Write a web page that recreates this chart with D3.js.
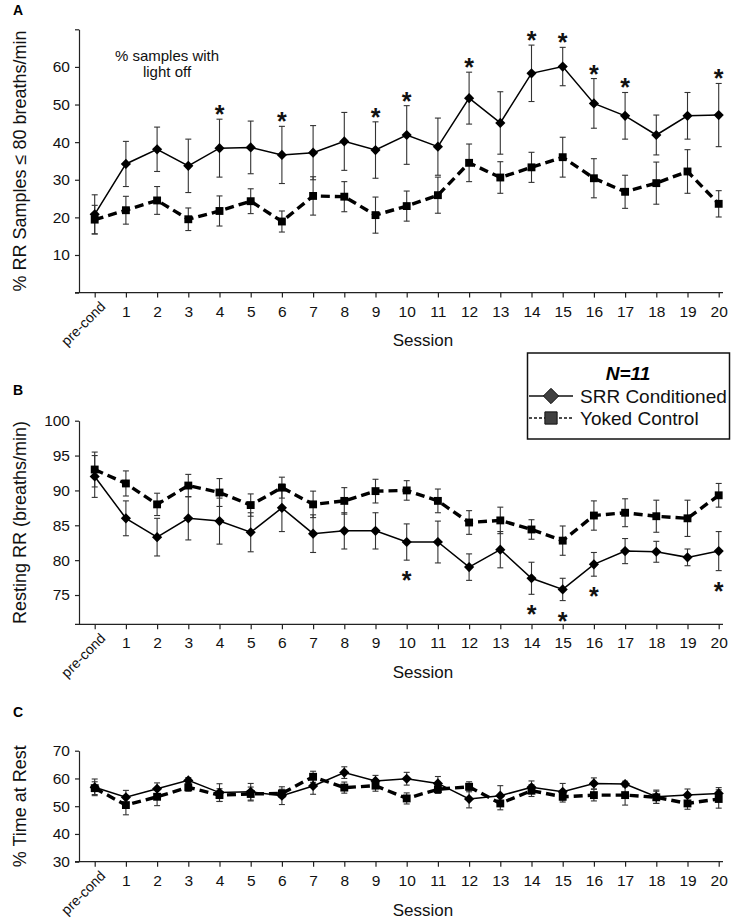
<!DOCTYPE html>
<html>
<head>
<meta charset="utf-8">
<script src="https://cdn.jsdelivr.net/npm/d3@7"></script>
<style>
  body { margin: 0; background: #fff; }
  svg { font-family: "Liberation Sans", Arial, sans-serif; }
</style>
</head>
<body>
<div id="chart"></div>
<script>
// Sessions (x categories)
const sessions = ["pre-cond", "1", "2", "3", "4", "5", "6", "7", "8", "9", "10",
  "11", "12", "13", "14", "15", "16", "17", "18", "19", "20"];

// A: % RR samples <= 80 breaths/min
const lightOffSrr = [20.8, 34.2, 38.1, 33.7, 38.4, 38.6, 36.6, 37.2, 40.2, 37.9, 41.9,
  38.8, 51.7, 45.1, 58.3, 60.1, 50.3, 47.0, 41.9, 47.0, 47.2];
const lightOffSrrErr = [5.2, 6.0, 5.9, 7.1, 7.7, 7.0, 7.6, 7.2, 7.7, 7.5, 7.8,
  7.6, 6.9, 8.3, 7.5, 5.1, 6.6, 6.2, 5.3, 6.2, 8.4];
const lightOffYoked = [19.4, 21.9, 24.5, 19.5, 21.7, 24.3, 18.9, 25.7, 25.5, 20.6, 23.0,
  25.9, 34.5, 30.6, 33.3, 36.0, 30.4, 26.8, 29.1, 32.2, 23.6];
const lightOffYokedErr = [3.8, 3.7, 3.7, 3.0, 4.0, 3.3, 2.8, 5.1, 4.0, 4.8, 4.0,
  4.8, 5.0, 4.2, 4.0, 5.3, 5.2, 4.4, 5.6, 5.8, 3.5];
const lightOffSig = ["4", "6", "9", "10", "12", "14", "15", "16", "17", "20"];

// B: resting RR (breaths/min)
const restRrSrr = [92.0, 86.0, 83.3, 86.0, 85.6, 84.0, 87.5, 83.8, 84.2, 84.2, 82.6,
  82.6, 79.0, 81.5, 77.4, 75.8, 79.4, 81.3, 81.2, 80.4, 81.3];
const restRrSrrErr = [3.0, 2.5, 2.7, 3.1, 3.3, 2.8, 3.4, 2.7, 2.6, 2.6, 2.6,
  3.0, 1.9, 2.6, 2.3, 1.6, 1.7, 1.8, 1.5, 1.2, 2.8];
const restRrYoked = [93.0, 91.0, 88.0, 90.7, 89.7, 87.9, 90.4, 88.0, 88.5, 89.9, 90.0,
  88.5, 85.4, 85.7, 84.4, 82.8, 86.4, 86.8, 86.3, 86.0, 89.3];
const restRrYokedErr = [2.5, 1.8, 1.6, 1.6, 2.0, 1.6, 1.5, 1.9, 1.9, 1.7, 1.4,
  1.7, 1.7, 1.9, 1.4, 2.1, 2.1, 2.0, 2.3, 2.6, 1.7];
const restRrSig = ["10", "14", "15", "16", "20"];

// C: % time at rest
const timeRestSrr = [56.8, 53.2, 56.3, 59.3, 54.9, 55.2, 53.8, 57.3, 62.1, 59.1, 59.9,
  58.2, 52.6, 53.8, 56.8, 55.2, 58.2, 58.0, 53.4, 54.0, 54.6];
const timeRestSrrErr = [3.0, 2.5, 2.1, 1.0, 3.2, 3.0, 3.2, 3.0, 2.1, 2.0, 2.3,
  2.5, 3.2, 3.6, 2.3, 3.0, 2.0, 1.0, 2.4, 2.2, 2.1];
const timeRestYoked = [56.5, 50.4, 53.4, 56.8, 54.0, 54.4, 54.6, 60.6, 56.7, 57.4, 52.8,
  56.1, 57.0, 51.0, 55.6, 53.4, 54.0, 54.0, 53.2, 51.0, 52.6];
const timeRestYokedErr = [2.3, 3.5, 3.2, 1.4, 2.3, 2.5, 1.5, 2.0, 2.0, 2.0, 2.0,
  1.5, 1.8, 2.3, 2.1, 1.9, 2.1, 3.6, 2.2, 2.1, 3.3];

// Panel setup
const panels = [
  { letter: "A", title: "% RR Samples \u2264 80 breaths/min", top: 29.3, bottom: 292.6,
    domain: [0, 70], ticks: d3.range(0, 71, 10), labels: d3.range(10, 61, 10),
    srr: lightOffSrr, srrErr: lightOffSrrErr, yoked: lightOffYoked, yokedErr: lightOffYokedErr,
    sig: lightOffSig, sigAbove: true, letterY: 15, sessionY: 346 },
  { letter: "B", title: "Resting RR (breaths/min)", top: 420.7, bottom: 624.3,
    domain: [70.8, 100], ticks: d3.range(75, 101, 5), labels: d3.range(75, 101, 5),
    srr: restRrSrr, srrErr: restRrSrrErr, yoked: restRrYoked, yokedErr: restRrYokedErr,
    sig: restRrSig, sigAbove: false, letterY: 395, sessionY: 678 },
  { letter: "C", title: "% Time at Rest", top: 750.7, bottom: 861.7,
    domain: [30, 70], ticks: d3.range(30, 71, 10), labels: d3.range(30, 71, 10),
    srr: timeRestSrr, srrErr: timeRestSrrErr, yoked: timeRestYoked, yokedErr: timeRestYokedErr,
    sig: [], sigAbove: true, letterY: 717, sessionY: 916 }
];

const width = 737, height = 921;
const axisX = 79, axisRight = 723;

const svg = d3.select("#chart")
  .append("svg")
  .attr("width", width)
  .attr("height", height);

const x = d3.scalePoint()
  .domain(sessions)
  .range([94.7, 718.7]);

const diamond = d3.symbol().type(d3.symbolDiamond2).size(66);
const square = d3.symbol().type(d3.symbolSquare).size(62);

panels.forEach(p => {
  const y = d3.scaleLinear().domain(p.domain).range([p.bottom, p.top]);
  const g = svg.append("g");

  // y axis
  const yAxis = g.append("g")
    .attr("transform", `translate(${axisX},0)`)
    .call(d3.axisLeft(y).tickValues(p.ticks).tickSize(4).tickSizeOuter(0).tickPadding(5)
      .tickFormat(d => p.labels.includes(d) ? d : ""));
  yAxis.attr("font-family", null);
  yAxis.selectAll("text").attr("font-size", 15.5).attr("fill", "#111");
  yAxis.selectAll("line, path").attr("stroke", "#222").attr("stroke-width", 1.2);

  // x axis
  const xAxis = g.append("g")
    .attr("transform", `translate(0,${p.bottom})`)
    .call(d3.axisBottom(x).tickSize(5).tickSizeOuter(0).tickPadding(8));
  xAxis.attr("font-family", null);
  xAxis.select(".domain").remove();
  xAxis.append("line")
    .attr("x1", axisX - 4).attr("x2", axisRight)
    .attr("stroke", "#222").attr("stroke-width", 1.2);
  xAxis.selectAll("line").attr("stroke", "#222").attr("stroke-width", 1.2);
  xAxis.selectAll("text").attr("font-size", 15.5).attr("fill", "#111");
  xAxis.selectAll(".tick").filter(d => d === "pre-cond").select("text")
    .attr("font-size", 14)
    .attr("text-anchor", "end")
    .attr("y", 0).attr("dy", 0)
    .attr("transform", "translate(11,15) rotate(-45)");

  // axis titles
  g.append("text")
    .attr("transform", `translate(26,${(p.top + p.bottom) / 2}) rotate(-90)`)
    .attr("text-anchor", "middle")
    .attr("font-size", 18)
    .attr("fill", "#111")
    .text(p.title);

  g.append("text")
    .attr("x", 423).attr("y", p.sessionY)
    .attr("text-anchor", "middle")
    .attr("font-size", 17)
    .attr("fill", "#111")
    .text("Session");

  g.append("text")
    .attr("x", 13).attr("y", p.letterY)
    .attr("font-size", 14)
    .attr("font-weight", "bold")
    .text(p.letter);

  const rows = sessions.map((s, i) => ({
    s, srr: p.srr[i], srrErr: p.srrErr[i], yoked: p.yoked[i], yokedErr: p.yokedErr[i]
  }));

  // error bars
  [["yoked", "yokedErr"], ["srr", "srrErr"]].forEach(([k, e]) => {
    const eb = g.append("g").attr("stroke", "#333").attr("stroke-width", 1.1);
    rows.forEach(d => {
      const cx = x(d.s);
      const y0 = y(d[k] - d[e]), y1 = y(d[k] + d[e]);
      eb.append("line").attr("x1", cx).attr("x2", cx).attr("y1", y0).attr("y2", y1);
      eb.append("line").attr("x1", cx - 3).attr("x2", cx + 3).attr("y1", y0).attr("y2", y0);
      eb.append("line").attr("x1", cx - 3).attr("x2", cx + 3).attr("y1", y1).attr("y2", y1);
    });
  });

  // lines
  g.append("path")
    .datum(rows)
    .attr("fill", "none")
    .attr("stroke", "#000")
    .attr("stroke-width", 3.4)
    .attr("stroke-dasharray", "9,5")
    .attr("d", d3.line().x(d => x(d.s)).y(d => y(d.yoked)));

  g.append("path")
    .datum(rows)
    .attr("fill", "none")
    .attr("stroke", "#000")
    .attr("stroke-width", 1.5)
    .attr("d", d3.line().x(d => x(d.s)).y(d => y(d.srr)));

  // markers
  g.selectAll(".sq")
    .data(rows)
    .enter()
    .append("path")
    .attr("transform", d => `translate(${x(d.s)},${y(d.yoked)})`)
    .attr("d", square)
    .attr("fill", "#000");

  g.selectAll(".dm")
    .data(rows)
    .enter()
    .append("path")
    .attr("transform", d => `translate(${x(d.s)},${y(d.srr)})`)
    .attr("d", diamond)
    .attr("fill", "#000");

  // significance stars
  g.selectAll(".star")
    .data(rows.filter(d => p.sig.includes(d.s)))
    .enter()
    .append("text")
    .attr("x", d => x(d.s))
    .attr("y", d => p.sigAbove ? y(d.srr + d.srrErr) + 4 : y(d.srr - d.srrErr) + 29)
    .attr("text-anchor", "middle")
    .attr("font-size", 25)
    .attr("font-weight", "bold")
    .attr("fill", "#111")
    .text("*");
});

// annotation in panel A
svg.append("text")
  .attr("text-anchor", "middle")
  .attr("font-size", 15)
  .attr("fill", "#111")
  .selectAll("tspan")
  .data(["% samples with", "light off"])
  .enter()
  .append("tspan")
  .attr("x", 167)
  .attr("y", (d, i) => 61 + i * 16)
  .text(d => d);

// legend
const legend = svg.append("g");
legend.append("rect")
  .attr("x", 527.5).attr("y", 353)
  .attr("width", 202).attr("height", 86)
  .attr("fill", "#fff")
  .attr("stroke", "#111")
  .attr("stroke-width", 1.5);

legend.append("text")
  .attr("x", 628).attr("y", 380)
  .attr("text-anchor", "middle")
  .attr("font-size", 19)
  .attr("font-weight", "bold")
  .attr("font-style", "italic")
  .text("N=11");

const legendItems = [
  { name: "SRR Conditioned", dash: null, symbol: d3.symbol().type(d3.symbolDiamond2).size(150) },
  { name: "Yoked Control", dash: "3,2", symbol: d3.symbol().type(d3.symbolSquare).size(150) }
];

legendItems.forEach((item, i) => {
  const cy = 396 + i * 22;
  legend.append("line")
    .attr("x1", 529).attr("x2", 573)
    .attr("y1", cy).attr("y2", cy)
    .attr("stroke", "#111")
    .attr("stroke-width", 1.3)
    .attr("stroke-dasharray", item.dash);
  legend.append("path")
    .attr("transform", `translate(551,${cy})`)
    .attr("d", item.symbol)
    .attr("fill", "#404040")
    .attr("stroke", "#111")
    .attr("stroke-width", 1);
  legend.append("text")
    .attr("x", 580).attr("y", cy + 7)
    .attr("font-size", 19)
    .attr("fill", "#111")
    .text(item.name);
});
</script>
</body>
</html>
